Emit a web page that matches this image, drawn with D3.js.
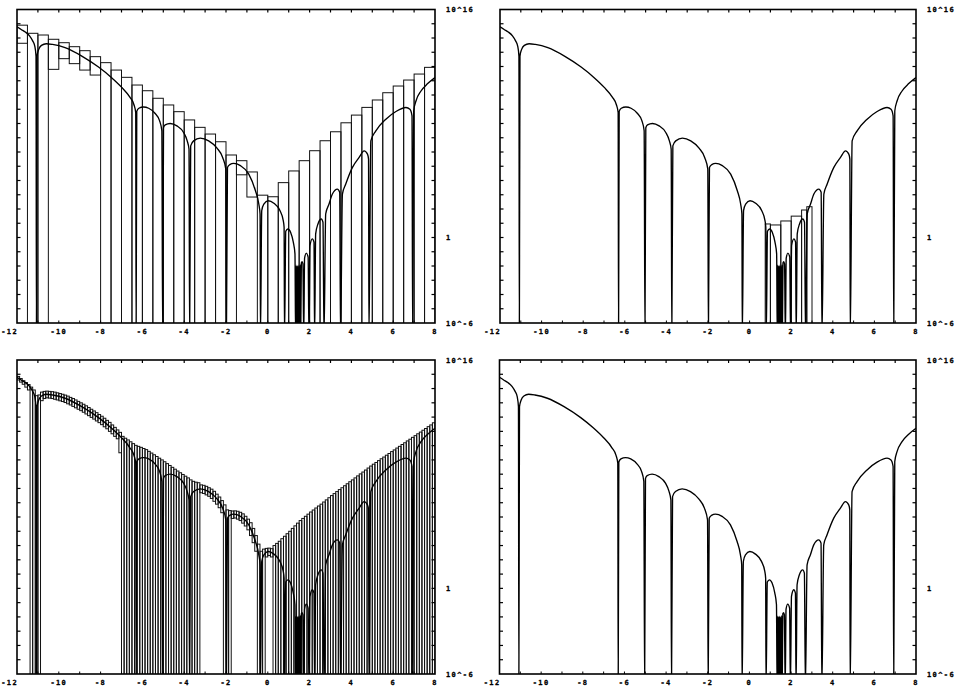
<!DOCTYPE html>
<html>
<head>
<meta charset="utf-8">
<script src="https://cdn.jsdelivr.net/npm/d3@7"></script>
<style>
  body { margin: 0; background: #ffffff; }
  text { font-family: "DejaVu Sans Mono", monospace; font-weight: bold; font-size: 7px; letter-spacing: 1.4px; fill: #000; stroke: #000; stroke-width: 0.3px; }
</style>
</head>
<body>
<div id="app"></div>
<script>
// axis labels
var xLabels = [-12, -10, -8, -6, -4, -2, 0, 2, 4, 6, 8];
var yLabels = [["10^16", 16], ["1", 0], ["10^-6", -6]];

// log10 |f(x)|; -7 marks a zero (falls below the axis)
var curvePts = [
  [-12, 14.79], [-11.8, 14.6], [-11.6, 14.42], [-11.4, 14.15], [-11.25, 13.8], [-11.15, 13.43], [-11.09, 12.73],
  [-11.07, -7],
  [-11.04, 12.73], [-10.96, 13.2], [-10.83, 13.48], [-10.6, 13.6], [-10.3, 13.55], [-9.7, 13.32], [-8.9, 12.73],
  [-8.1, 11.96], [-7.5, 11.25], [-7.0, 10.55], [-6.6, 9.85], [-6.4, 9.3], [-6.32, 8.77],
  [-6.30, -7],
  [-6.27, 8.85], [-6.17, 9.07], [-5.95, 9.16], [-5.7, 9.07], [-5.4, 8.72], [-5.18, 8.2], [-5.07, 7.5],
  [-5.03, -7],
  [-4.99, 7.7], [-4.91, 7.9], [-4.67, 8.0], [-4.35, 7.83], [-4.03, 7.37], [-3.86, 6.8], [-3.77, 6.2],
  [-3.74, -7],
  [-3.69, 6.43], [-3.55, 6.78], [-3.23, 6.97], [-2.83, 6.78], [-2.43, 6.27], [-2.16, 5.62], [-2.01, 4.8],
  [-1.98, -7],
  [-1.93, 4.92], [-1.82, 5.11], [-1.63, 5.2], [-1.31, 5.04], [-0.91, 4.45], [-0.59, 3.28], [-0.43, 2.35], [-0.37, 1.65],
  [-0.35, -7],
  [-0.29, 1.89], [-0.19, 2.35], [0.02, 2.58], [0.29, 2.4], [0.58, 1.89], [0.74, 1.19], [0.78, 0.72],
  [0.80, -7],
  [0.86, 0.44], [0.96, 0.6], [1.09, 0.37], [1.22, -0.33], [1.30, -1.15],
  [1.33, -7], [1.355, -1.95], [1.38, -7], [1.405, -1.98], [1.43, -7], [1.455, -1.95], [1.48, -7],
  [1.505, -2.0], [1.53, -7], [1.555, -1.9], [1.575, -7],
  [1.605, -1.78], [1.64, -1.7], [1.68, -1.85],
  [1.72, -7],
  [1.76, -1.45], [1.84, -1.1], [1.93, -1.38],
  [1.97, -7],
  [2.02, -0.56], [2.13, -0.1], [2.21, -0.33],
  [2.24, -7],
  [2.29, 0.25], [2.40, 0.95], [2.56, 1.3], [2.64, 1.07],
  [2.69, -7],
  [2.77, 1.65], [2.93, 2.35], [3.09, 3.05], [3.33, 3.4], [3.44, 3.17],
  [3.48, -7],
  [3.57, 3.05], [3.73, 3.75], [4.05, 4.92], [4.37, 5.62], [4.61, 6.08], [4.77, 5.85], [4.82, 5.5],
  [4.84, -7],
  [4.93, 6.78], [5.17, 7.48], [5.65, 8.3], [6.13, 8.84], [6.61, 9.12], [6.8, 9.0], [6.9, 8.54],
  [6.93, -7],
  [6.98, 8.88], [7.09, 9.58], [7.33, 10.28], [7.65, 10.8], [8, 11.22]
];

// top-left: 40 bins of width 0.5 (upper / lower bound exponents, null = reaches zero)
var coarseUpper = [14.9, 14.33, 14.21, 13.91, 13.67, 13.39, 13.11, 12.69, 12.27, 11.75,
  11.24, 10.7, 10.3, 9.77, 9.3, 8.83, 8.25, 7.73, 7.26, 6.72,
  5.79, 5.39, 4.6, 2.97, 2.86, 3.85, 4.67, 5.39, 6.09, 6.79,
  7.42, 8.05, 8.59, 9.13, 9.65, 10.16, 10.63, 11.05, 11.47, 11.94];
var coarseLower = [13.63, null, null, 11.8, 12.55, 12.2, 11.75, 11.4, null, null,
  null, null, null, null, null, null, null, null, null, null,
  null, 4.4, 2.84, null, null, null, null, null, null, null,
  null, null, null, null, null, null, null, null, null, null];

// top-right: a few refined bins around the root cluster
var midX0 = [0.75, 1.0, 1.5, 2.0, 2.5, 2.75];
var midX1 = [1.0, 1.5, 2.0, 2.5, 2.75, 3.0];
var midUpper = [0.95, 0.88, 1.16, 1.5, 1.93, 2.16];

// bottom-left: 160 bins of width 0.125
var fineUpper = [
  14.85, 14.7, 14.55, 14.42, 14.28, 14.1, 13.9, 13.5, 13.55, 13.75,
  13.8, 13.82, 13.8, 13.78, 13.75, 13.7, 13.65, 13.6, 13.54, 13.47,
  13.38, 13.3, 13.2, 13.1, 13.0, 12.9, 12.79, 12.67, 12.55, 12.43,
  12.31, 12.18, 12.06, 11.92, 11.77, 11.63, 11.45, 11.28, 11.1, 10.93,
  10.65, 10.52, 10.4, 10.27, 10.14, 10.02, 9.95, 9.88, 9.8, 9.72,
  9.6, 9.48, 9.36, 9.24, 9.12, 9.0, 8.87, 8.74, 8.61, 8.48,
  8.35, 8.22, 8.1, 7.98, 7.86, 7.74, 7.6, 7.5, 7.44, 7.4,
  7.25, 7.22, 7.15, 7.05, 6.95, 6.8, 6.6, 6.4, 6.15, 5.85,
  5.5, 5.45, 5.42, 5.43, 5.4, 5.33, 5.22, 5.05, 4.85, 4.6,
  4.2, 3.7, 3.1, 2.6, 2.75, 2.8, 2.82, 2.78, 3.0, 3.15,
  3.3, 3.48, 3.65, 3.83, 4.0, 4.2, 4.38, 4.57, 4.75, 4.9,
  5.05, 5.2, 5.35, 5.49, 5.63, 5.77, 5.9, 6.05, 6.2, 6.35,
  6.5, 6.64, 6.78, 6.92, 7.05, 7.19, 7.33, 7.47, 7.6, 7.74,
  7.88, 8.02, 8.15, 8.29, 8.43, 8.57, 8.7, 8.82, 8.95, 9.08,
  9.2, 9.33, 9.45, 9.58, 9.7, 9.83, 9.95, 10.08, 10.2, 10.33,
  10.45, 10.58, 10.7, 10.83, 10.95, 11.08, 11.2, 11.33, 11.45, 11.6
];
var fineLower = [
  14.6, 14.45, 14.3, 14.1, 13.9, null, null, null, null, 13.15,
  13.3, 13.35, 13.33, 13.3, 13.25, 13.2, 13.14, 13.09, 13.02, 12.93,
  12.85, 12.75, 12.65, 12.55, 12.45, 12.34, 12.22, 12.1, 11.98, 11.86,
  11.73, 11.61, 11.47, 11.32, 11.18, 11.0, 10.83, 10.65, 10.48, 9.5,
  null, null, null, null, null, null, null, null, null, null,
  null, null, null, null, null, null, null, null, null, null,
  null, null, null, null, null, null, null, null, null, null,
  6.7, 6.65, 6.55, 6.45, 6.3, 6.1, 5.9, 5.65, 5.3, null,
  null, null, 4.9, 4.93, 4.85, 4.75, 4.57, 4.37, 4.1, 3.7,
  3.2, 2.6, null, null, null, 2.2, 2.3, 2.2, null, null
].concat(new Array(60).fill(null));

function bins(start, width, upper, lower) {
  return upper.map((u, i) => ({
    x0: start + i * width,
    x1: start + (i + 1) * width,
    up: u,
    lo: lower[i]
  }));
}

var panels = [
  { left: 17, top: 9.5, width: 418, height: 313.5, bars: bins(-12, 0.5, coarseUpper, coarseLower) },
  { left: 500, top: 9.5, width: 416, height: 313.5,
    bars: midUpper.map((u, i) => ({ x0: midX0[i], x1: midX1[i], up: u, lo: null })) },
  { left: 17, top: 360, width: 418, height: 314, bars: bins(-12, 0.125, fineUpper, fineLower) },
  { left: 499.5, top: 360, width: 416.5, height: 314, bars: [] }
];

var svg = d3
  .select("#app")
  .append("svg")
  .attr("width", 959)
  .attr("height", 686)
  .attr("style", "background-color:#ffffff");

panels.forEach(function (p, k) {
  var x = d3.scaleLinear().domain([-12, 8]).range([0, p.width]);
  var y = d3.scaleLog().domain([1e-6, 1e16]).range([p.height, 0]);

  var g = svg.append("g").attr("transform", "translate(" + p.left + "," + p.top + ")");

  g.append("clipPath")
    .attr("id", "clip" + k)
    .append("rect")
    .attr("width", p.width)
    .attr("height", p.height);

  var inner = g.append("g").attr("clip-path", "url(#clip" + k + ")");

  // interval boxes
  inner
    .selectAll("rect.bar")
    .data(p.bars)
    .enter()
    .append("rect")
    .attr("class", "bar")
    .attr("x", (d) => x(d.x0))
    .attr("width", (d) => x(d.x1) - x(d.x0))
    .attr("y", (d) => y(Math.pow(10, d.up)))
    .attr("height", (d) => (d.lo === null ? p.height + 2 : y(Math.pow(10, d.lo))) - y(Math.pow(10, d.up)))
    .attr("fill", "none")
    .attr("stroke", "#111")
    .attr("stroke-width", 1);

  // the function
  inner
    .append("path")
    .datum(curvePts)
    .attr(
      "d",
      d3
        .line()
        .curve(d3.curveMonotoneX)
        .x((d) => x(d[0]))
        .y((d) => y(Math.pow(10, d[1])))
    )
    .attr("fill", "none")
    .attr("stroke", "#000")
    .attr("stroke-width", 1.35);

  // frame
  g.append("rect")
    .attr("width", p.width)
    .attr("height", p.height)
    .attr("fill", "none")
    .attr("stroke", "#000")
    .attr("stroke-width", 1.6);

  // decade ticks, left and right, pointing in
  var decades = d3.range(-5, 16);
  g.selectAll("line.lt")
    .data(decades)
    .enter()
    .append("line")
    .attr("x1", 0)
    .attr("x2", 3.5)
    .attr("y1", (d) => y(Math.pow(10, d)))
    .attr("y2", (d) => y(Math.pow(10, d)))
    .attr("stroke", "#000")
    .attr("stroke-width", 1.2);
  g.selectAll("line.rt")
    .data(decades)
    .enter()
    .append("line")
    .attr("x1", p.width)
    .attr("x2", p.width - 3.5)
    .attr("y1", (d) => y(Math.pow(10, d)))
    .attr("y2", (d) => y(Math.pow(10, d)))
    .attr("stroke", "#000")
    .attr("stroke-width", 1.2);

  // unit ticks on top and bottom edges
  var units = d3.range(-11, 8);
  g.selectAll("line.tt")
    .data(units)
    .enter()
    .append("line")
    .attr("x1", (d) => x(d))
    .attr("x2", (d) => x(d))
    .attr("y1", 0)
    .attr("y2", 3)
    .attr("stroke", "#000")
    .attr("stroke-width", 1.2);
  g.selectAll("line.bt")
    .data(units)
    .enter()
    .append("line")
    .attr("x1", (d) => x(d))
    .attr("x2", (d) => x(d))
    .attr("y1", p.height)
    .attr("y2", p.height - 2.5)
    .attr("stroke", "#000")
    .attr("stroke-width", 1);

  // x labels
  g.selectAll("text.xl")
    .data(xLabels)
    .enter()
    .append("text")
    .attr("x", (d) => (d === -12 ? x(d) + 1 : x(d)))
    .attr("y", p.height + 11)
    .attr("text-anchor", (d) => (d === -12 ? "end" : "middle"))
    .text((d) => d);

  // y labels on the right
  g.selectAll("text.yl")
    .data(yLabels)
    .enter()
    .append("text")
    .attr("x", p.width + 11)
    .attr("y", (d) => y(Math.pow(10, d[1])) + 2.5)
    .text((d) => d[0]);
});
</script>
</body>
</html>
